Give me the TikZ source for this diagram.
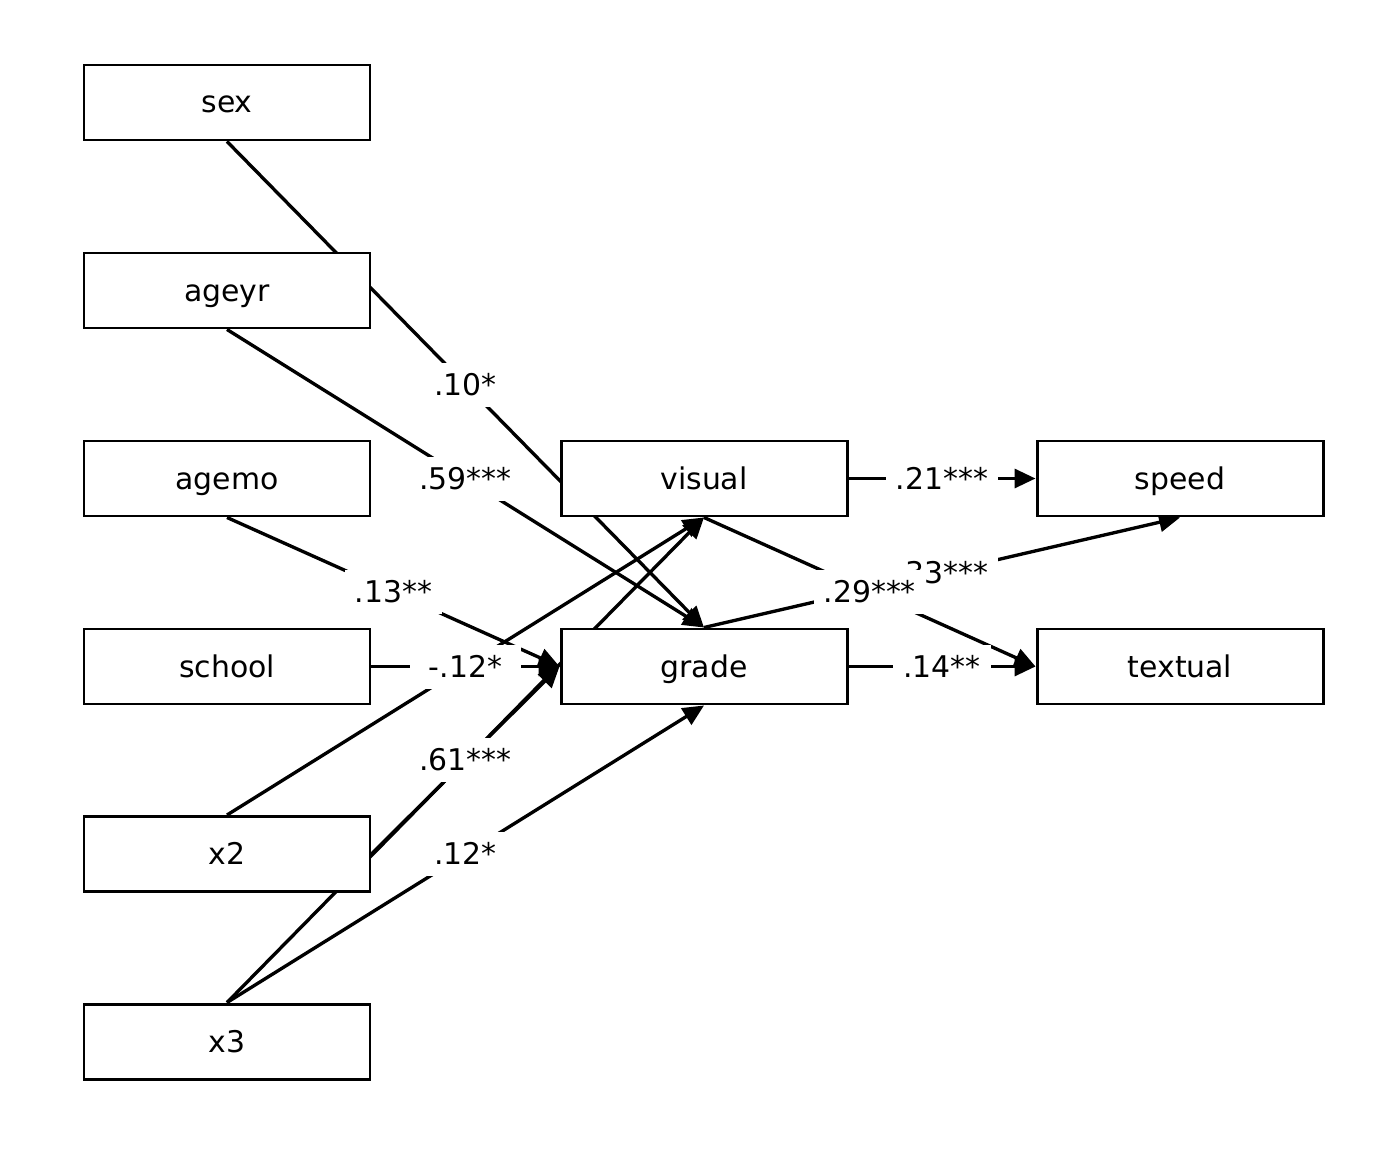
\documentclass[tikz,border=0pt]{standalone}
\usepackage{fontspec}
\setmainfont{DejaVu Sans}
\usetikzlibrary{arrows.meta,backgrounds}
\begin{document}
\begin{tikzpicture}[>={Triangle[length=0.42cm,width=0.38cm]},line width=1.7pt,
	var/.style={draw,fill=white,minimum width=5.72cm,minimum height=1.5cm,text height=0.52cm,text depth=0.1cm,font=\fontsize{17}{20}\selectfont},
	reg/.style={->,line width=1.9pt},
	lab/.style={fill=white,inner xsep=0.2cm,inner ysep=0pt,minimum height=0.88cm,text height=0.52cm,text depth=0.1cm,font=\fontsize{17}{20}\selectfont}]
	\useasboundingbox (0,0) rectangle (28,-23.04);
	\node[var] (sex) at (4.54,-2.05) {sex};
	\node[var] (ageyr) at (4.54,-5.81) {ageyr};
	\node[var] (agemo) at (4.54,-9.57) {agemo};
	\node[var] (school) at (4.54,-13.33) {school};
	\node[var] (x2) at (4.54,-17.08) {x2};
	\node[var] (x3) at (4.54,-20.83) {x3};
	\node[var] (visual) at (14.08,-9.57) {visual};
	\node[var] (grade) at (14.08,-13.33) {grade};
	\node[var] (speed) at (23.6,-9.57) {speed};
	\node[var] (textual) at (23.6,-13.33) {textual};
	\begin{pgfonlayer}{background}
	\draw[reg] (sex.south) -- (grade.north) node[pos=0.5,lab]{.10*};
	\draw[reg] (ageyr.south) -- (grade.north) node[pos=0.5,lab]{.59***};
	\draw[reg] (agemo.south) -- (grade.west) node[pos=0.5,lab]{.13**};
	\draw[reg] (x2.north) -- (visual.south);
	\draw[reg] (x3.north) -- (visual.south);
	\draw[reg] (school.east) -- (grade.west) node[pos=0.5,lab,inner xsep=0.38cm]{-.12*};
	\draw[reg] (x2.east) -- (grade.west) node[pos=0.5,lab]{.61***};
	\draw[reg] (x3.north) -- (grade.south) node[pos=0.5,lab]{.12*};
	\draw[reg] (visual.east) -- (speed.west) node[pos=0.5,lab]{.21***};
	\draw[reg] (grade.north) -- (speed.south) node[pos=0.5,lab]{.33***};
	\draw[reg] (visual.south) -- (textual.west) node[pos=0.5,lab]{.29***};
	\draw[reg] (grade.east) -- (textual.west) node[pos=0.5,lab]{.14**};
	\end{pgfonlayer}
\end{tikzpicture}
\end{document}
